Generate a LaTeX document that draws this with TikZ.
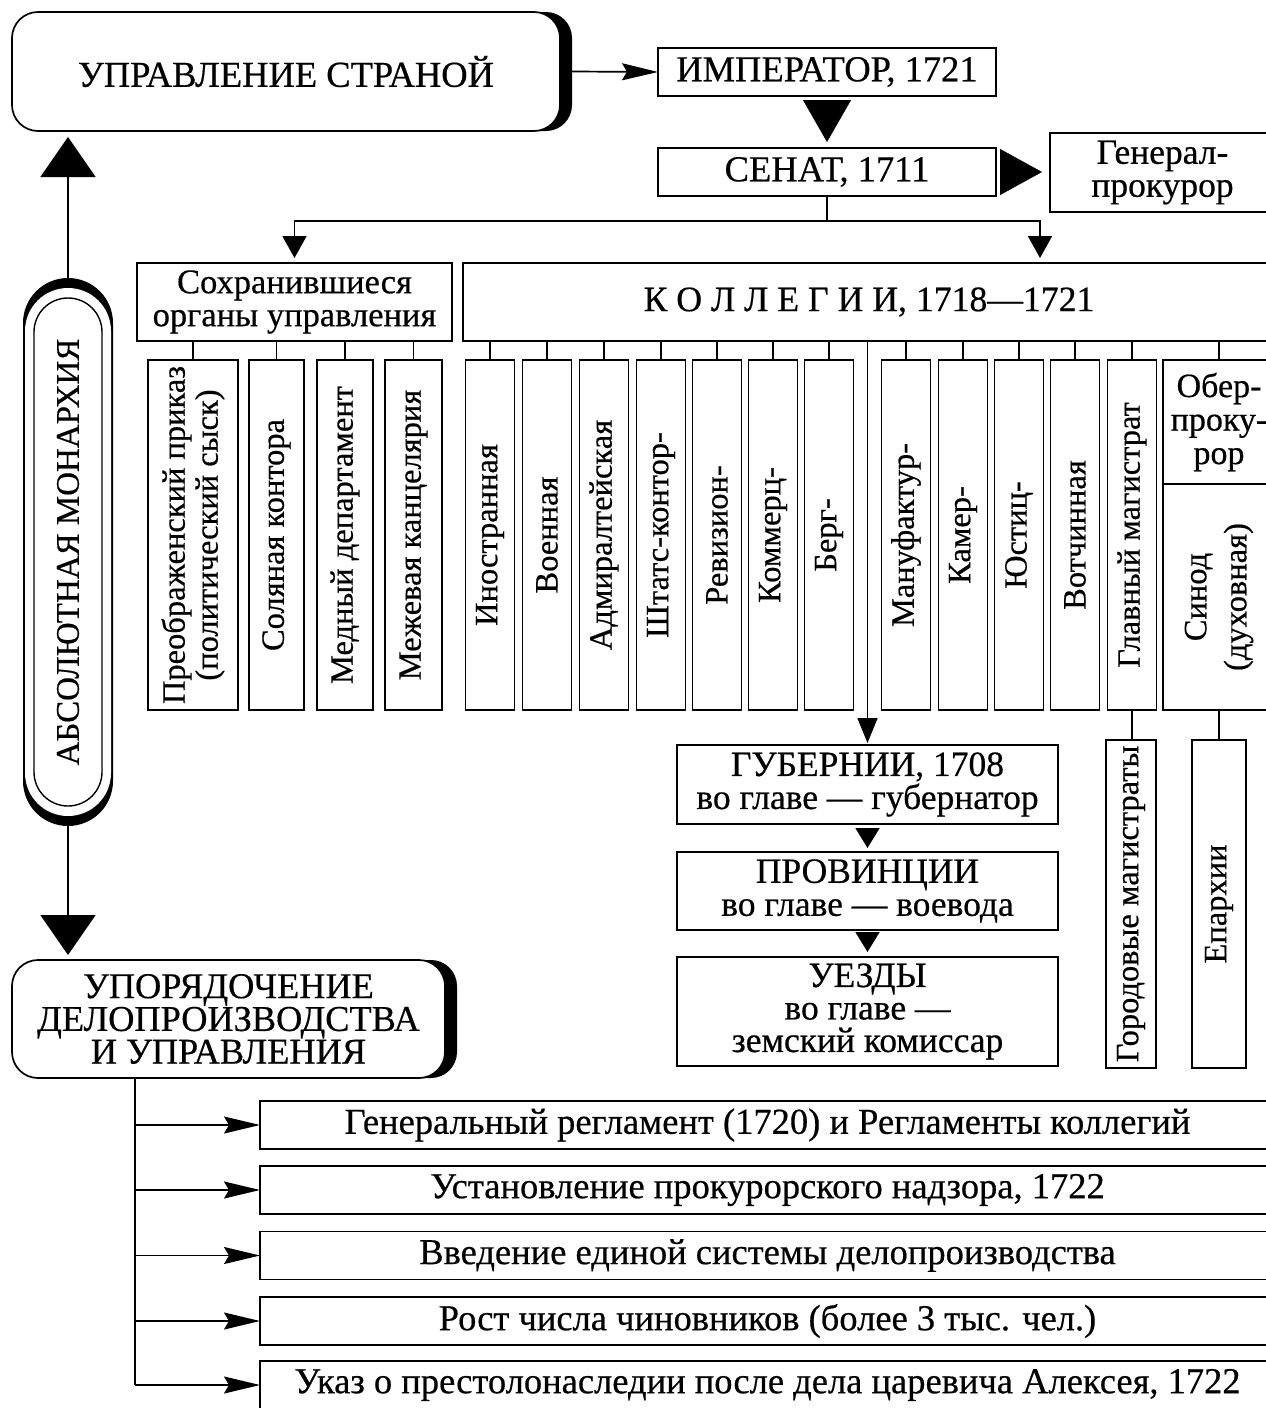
\documentclass[tikz,border=0pt]{standalone}
\usepackage{fontspec}
\setmainfont{Liberation Serif}[UprightFeatures={FakeBold=0.5}]
\usetikzlibrary{arrows.meta,calc}
\newcommand\fsz[2]{\fontsize{#1pt}{#2pt}\selectfont}
\begin{document}
\begin{tikzpicture}[x=1pt,y=-1pt,
  every node/.style={inner sep=0pt, outer sep=0pt, align=center},
  cline/.style={line width=1.7pt},
  bx/.style={draw, line width=1.7pt, fill=white, rectangle},
  vbx/.style={bx, rotate=90},
  thinarr/.style={cline, -{Stealth[length=36pt,width=17pt,inset=5pt]}},
  smalltri/.style={cline, -{Triangle[length=22pt,width=24pt]}},
  medtri/.style={cline, -{Triangle[length=20pt,width=24pt]}},
  bigtri/.style={line width=0.4pt, -{Triangle[length=42pt,width=48pt]}},
  sidetri/.style={line width=0.4pt, -{Triangle[length=42pt,width=46pt]}},
  captri/.style={cline, -{Triangle[length=40pt,width=55pt]}},
  colfont/.style={font=\fsz{32.5}{33}},
  hfont/.style={font=\fsz{36.5}{34}},
]
\useasboundingbox (0,0) rectangle (1266,1408);
\clip (0,0) rectangle (1266,1408);
\fill[white] (0,0) rectangle (1266,1408);

% top row
\node[fill=black, rounded corners=26pt, minimum width=548pt, minimum height=119pt] (uprsh) at (298,71.5) {};
\node[bx, rounded corners=26pt, minimum width=548pt, minimum height=119pt, hfont] (upr) at (286,71.5) {УПРАВЛЕНИЕ СТРАНОЙ};
\node[bx, minimum width=338pt, minimum height=48pt, hfont] (imp) at (827,72) {ИМПЕРАТОР, 1721};
\node[bx, minimum width=338pt, minimum height=48pt, hfont] (sen) at (827,172) {СЕНАТ, 1711};
\node[bx, minimum width=225pt, minimum height=79pt, font=\fsz{35.5}{33}] (gp) at (1162.5,172.5) {Генерал-\\прокурор};

\draw[thinarr] (uprsh.east) -- (imp.west);
\draw[bigtri] ($(imp.south)+(0,4)$) -- ($(sen.north)+(0,-6)$);
\draw[sidetri] ($(sen.east)+(4,0)$) -- ($(gp.west |- sen.east)+(-8,0)$);

% second row
\node[bx, minimum width=315pt, minimum height=78pt, font=\fsz{34.5}{33}] (sohr) at (294.5,302) {Сохранившиеся\\органы управления};
\node[bx, minimum width=812pt, minimum height=78pt, font=\fsz{35.7}{32}] (kol) at (869,302) {К О Л Л Е Г И И, 1718—1721};

\coordinate (split) at ($(sen.south)+(0,25)$);
\draw[cline] (sen.south) -- (split);
\draw[smalltri] (split) -| ($(sohr.north)+(0,-5)$);
\draw[smalltri] (split) -| ($(kol.north west)+(577,-5)$);

% columns under Сохранившиеся
\node[vbx, minimum width=350pt, minimum height=90pt, colfont] (s1) at (193,535) {Преображенский приказ\\(политический сыск)};
\node[vbx, minimum width=350pt, minimum height=55pt, colfont] (s2) at (276.5,535) {Соляная контора};
\node[vbx, minimum width=350pt, minimum height=56pt, colfont] (s3) at (345,535) {Медный департамент};
\node[vbx, minimum width=350pt, minimum height=57pt, colfont] (s4) at (413.5,535) {Межевая канцелярия};
\foreach \n in {s1,s2,s3,s4} \draw[cline] (\n.east |- sohr.south) -- (\n.east);

% columns under Коллегии
\foreach \x/\nm/\t in {490/k1/Иностранная, 547/k2/Военная, 604/k3/Адмиралтейская, 661/k4/Штатс-контор-, 717/k5/Ревизион-, 773/k6/Коммерц-, 829/k7/Берг-, 906/k8/Мануфактур-, 963/k9/Камер-, 1019/k10/Юстиц-, 1075/k11/Вотчинная, 1132/k12/Главный магистрат} {
  \node[vbx, minimum width=350pt, minimum height=49pt, colfont] (\nm) at (\x,535) {\t};
  \draw[cline] (\nm.east |- kol.south) -- (\nm.east);
}
\node[bx, minimum width=112pt, minimum height=124pt, font=\fsz{34}{33.5}] (ober) at (1219,422) {Обер-\\проку-\\рор};
\node[vbx, minimum width=226pt, minimum height=112pt, font=\fsz{32.5}{40}] (sinod) at (1219,597) {Синод\\(духовная)};
\draw[cline] (ober.north |- kol.south) -- (ober.north);

% local government
\node[bx, minimum width=381pt, minimum height=79pt, font=\fsz{35.5}{33}] (gub) at (867.5,784.5) {ГУБЕРНИИ, 1708\\во главе — губернатор};
\node[bx, minimum width=381pt, minimum height=78pt, font=\fsz{35.5}{33}] (prov) at (867.5,891) {ПРОВИНЦИИ\\во главе — воевода};
\node[bx, minimum width=381pt, minimum height=109pt, font=\fsz{35.5}{32.5}] (uezd) at (867.5,1011.5) {УЕЗДЫ\\во главе —\\земский комиссар};
\draw[cline, -{Triangle[length=25pt,width=20pt]}] (gub.north |- kol.south) -- ($(gub.north)+(0,-2)$);
\draw[medtri] ($(gub.south)+(0,4)$) -- ($(prov.north)+(0,-4)$);
\draw[medtri] ($(prov.south)+(0,4)$) -- ($(uezd.north)+(0,-5)$);

\node[vbx, minimum width=328pt, minimum height=50pt, colfont] (gor) at (1131,904) {Городовые магистраты};
\node[vbx, minimum width=328pt, minimum height=54pt, colfont] (epar) at (1219,904) {Епархии};
\draw[cline] (k12.west) -- (k12.west |- gor.east);
\draw[cline] (sinod.west) -- (sinod.west |- epar.east);

% absolute monarchy capsule
\node[fill=black, rounded corners=45pt, minimum width=90pt, minimum height=548pt] (caps) at (68,552) {};
\node[fill=white, rounded corners=43pt, minimum width=86pt, minimum height=528pt] (capsw) at (caps) {};
\node[draw, line width=1.4pt, rounded corners=34pt, minimum width=68pt, minimum height=508pt] (capsi) at (caps) {};
\node[rotate=90, font=\fsz{33}{33}] (capst) at (caps) {АБСОЛЮТНАЯ МОНАРХИЯ};

% bottom block
\node[fill=black, rounded corners=26pt, minimum width=433pt, minimum height=118pt] (uporsh) at (240.5,1019) {};
\node[bx, rounded corners=26pt, minimum width=433pt, minimum height=118pt, font=\fsz{36.3}{31.5}] (upor) at (228.5,1019) {УПОРЯДОЧЕНИЕ\\ДЕЛОПРОИЗВОДСТВА\\И УПРАВЛЕНИЯ};

\draw[captri] (caps.north) -- ($(caps.north |- upr.south)+(0,6)$);
\draw[captri] (caps.south) -- ($(caps.south |- upor.north)+(0,-5)$);

\node[bx, minimum width=1015pt, minimum height=48pt, hfont] (b1) at (767.5,1125) {Генеральный регламент (1720) и Регламенты коллегий};
\node[bx, minimum width=1015pt, minimum height=48pt, hfont] (b2) at (767.5,1190) {Установление прокурорского надзора, 1722};
\node[bx, minimum width=1015pt, minimum height=48pt, hfont] (b3) at (767.5,1255.5) {Введение единой системы делопроизводства};
\node[bx, minimum width=1015pt, minimum height=48pt, hfont] (b4) at (767.5,1321) {Рост числа чиновников (более 3 тыс. чел.)};
\node[bx, minimum width=1015pt, minimum height=48pt, hfont] (b5) at (767.5,1385) {Указ о престолонаследии после дела царевича Алексея, 1722};

\coordinate (trunk) at ($(upor.south west)+(123,0)$);
\draw[cline] (trunk) -- (trunk |- b5.west);
\foreach \b in {b1,b2,b3,b4,b5} \draw[thinarr] (trunk |- \b.west) -- (\b.west);
\end{tikzpicture}
\end{document}
